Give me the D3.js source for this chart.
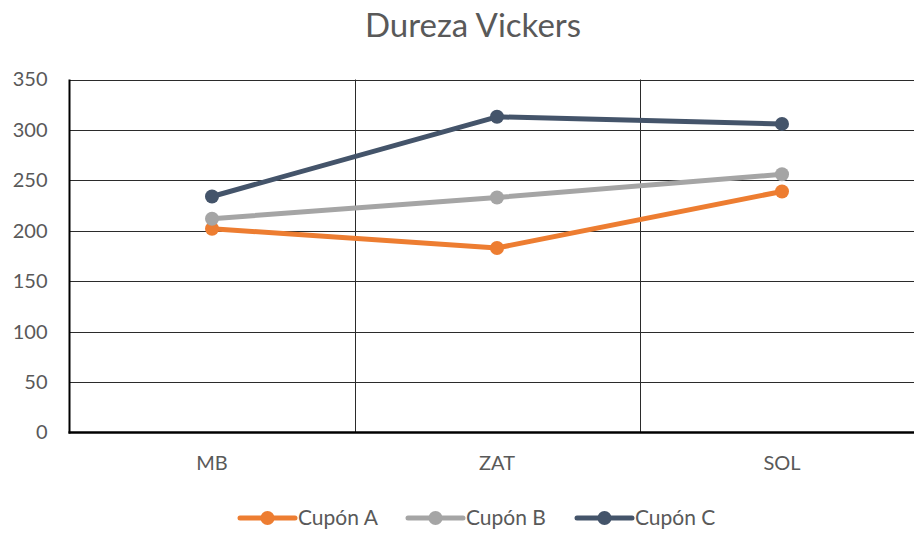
<!DOCTYPE html>
<html>
<head>
<meta charset="utf-8">
<script src="https://cdn.jsdelivr.net/npm/d3@7"></script>
<style>
  html, body { margin: 0; padding: 0; background: #fff; }
  svg { display: block; font-family: Lato, "Open Sans", "Noto Sans", sans-serif; }
</style>
</head>
<body>
<svg id="chart" width="914" height="534"></svg>
<script>
// Vickers hardness per zone, one series per coupon
const categories = ["MB", "ZAT", "SOL"];
const seriesNames = ["Cupón A", "Cupón B", "Cupón C"];
const cuponA = [202, 183, 239];
const cuponB = [212, 233, 256];
const cuponC = [234, 313, 306];
const yTicks = [0, 50, 100, 150, 200, 250, 300, 350];
const colors = ["#ED7D31", "#A5A5A5", "#44546A"];

const series = [cuponA, cuponB, cuponC].map((values, i) => ({
  name: seriesNames[i], values, color: colors[i]
}));

const svg = d3.select("#chart");
const W = 914;
const plot = { left: 69.5, right: 924.5, top: 79.5, bottom: 432.5 };

const x = d3.scaleBand().domain(categories).range([plot.left, plot.right]);
const y = d3.scaleLinear().domain([0, 350]).range([plot.bottom, plot.top]);

// Title
svg.append("text")
  .attr("x", 473).attr("y", 37)
  .attr("text-anchor", "middle")
  .attr("font-size", 33)
  .attr("fill", "#595959")
  .text("Dureza Vickers");

// Horizontal gridlines
svg.append("g")
  .selectAll("line")
  .data(yTicks.filter(d => d > 0))
  .join("line")
  .attr("x1", plot.left).attr("x2", W)
  .attr("y1", d => Math.round(y(d)) + 0.5).attr("y2", d => Math.round(y(d)) + 0.5)
  .attr("stroke", "#2b2b2b").attr("stroke-width", 1);

// Vertical gridlines at category boundaries
svg.append("g")
  .selectAll("line")
  .data(categories.slice(1))
  .join("line")
  .attr("x1", d => Math.round(x(d)) + 0.5).attr("x2", d => Math.round(x(d)) + 0.5)
  .attr("y1", plot.top).attr("y2", plot.bottom)
  .attr("stroke", "#2b2b2b").attr("stroke-width", 1);

// Axis lines
svg.append("line")
  .attr("x1", plot.left).attr("x2", plot.left)
  .attr("y1", plot.top).attr("y2", plot.bottom + 1)
  .attr("stroke", "#000").attr("stroke-width", 2);
svg.append("line")
  .attr("x1", plot.left - 1).attr("x2", W)
  .attr("y1", plot.bottom).attr("y2", plot.bottom)
  .attr("stroke", "#000").attr("stroke-width", 2.5);

// Y tick labels
const yAxis = d3.axisLeft(y).tickValues(yTicks).tickSize(0).tickPadding(22);
const gy = svg.append("g").attr("transform", `translate(${plot.left},0)`).call(yAxis);
gy.select(".domain").remove();
gy.selectAll("text").attr("font-size", 20).attr("fill", "#595959")
  .attr("font-family", "Lato, 'Open Sans', sans-serif");

// X tick labels
const xAxis = d3.axisBottom(x).tickSize(0).tickPadding(23);
const gx = svg.append("g").attr("transform", `translate(0,${plot.bottom})`).call(xAxis);
gx.select(".domain").remove();
gx.selectAll("text").attr("font-size", 20).attr("fill", "#595959")
  .attr("font-family", "Lato, 'Open Sans', sans-serif");

// Series lines and markers
const line = d3.line()
  .x((d, i) => x(categories[i]) + x.bandwidth() / 2)
  .y(d => y(d));

series.forEach(s => {
  svg.append("path")
    .datum(s.values)
    .attr("d", line)
    .attr("fill", "none")
    .attr("stroke", s.color)
    .attr("stroke-width", 5)
    .attr("stroke-linejoin", "round");
  svg.append("g")
    .selectAll("circle")
    .data(s.values)
    .join("circle")
    .attr("cx", (d, i) => x(categories[i]) + x.bandwidth() / 2)
    .attr("cy", d => y(d))
    .attr("r", 7)
    .attr("fill", s.color);
});

// Legend
const legendX = [240, 408, 577];
const legendY = 518;
const legend = svg.append("g");
series.forEach((s, i) => {
  const g = legend.append("g").attr("transform", `translate(${legendX[i]},${legendY})`);
  g.append("line").attr("x1", 0).attr("x2", 55).attr("y1", 0).attr("y2", 0)
    .attr("stroke", s.color).attr("stroke-width", 5).attr("stroke-linecap", "round");
  g.append("circle").attr("cx", 27.5).attr("cy", 0).attr("r", 7).attr("fill", s.color);
  g.append("text").attr("x", 58).attr("y", 7)
    .attr("font-size", 21).attr("fill", "#595959")
    .text(s.name);
});
</script>
</body>
</html>
